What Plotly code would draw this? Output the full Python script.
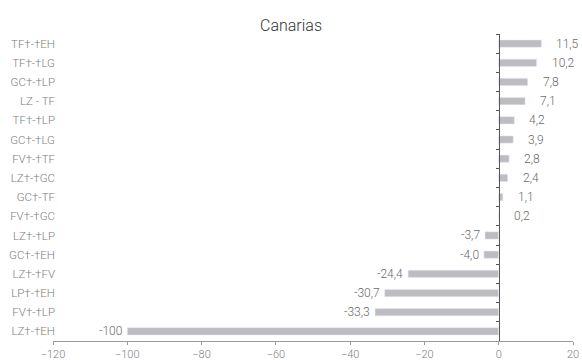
import plotly.graph_objs as go

routes = ["TF†-†EH", "TF†-†LG", "GC†-†LP", "LZ - TF", "TF†-†LP", "GC†-†LG",
          "FV†-†TF", "LZ†-†GC", "GC†-TF", "FV†-†GC", "LZ†-†LP", "GC†-†EH",
          "LZ†-†FV", "LP†-†EH", "FV†-†LP", "LZ†-†EH"]
values = [11.5, 10.2, 7.8, 7.1, 4.2, 3.9, 2.8, 2.4, 1.1, 0.2,
          -3.7, -4.0, -24.4, -30.7, -33.3, -100]
value_labels = ["11,5", "10,2", "7,8", "7,1", "4,2", "3,9", "2,8", "2,4", "1,1", "0,2",
                "-3,7", "-4,0", "-24,4", "-30,7", "-33,3", "-100"]

bar_color = "#bdbdc1"
text_color = "#6a6a6a"
tick_color = "#808080"
axis_color = "#9a9a9a"

fig = go.Figure()
fig.add_trace(go.Bar(
    x=values, y=routes, orientation="h", marker_color=bar_color,
    width=0.38, hoverinfo="skip", showlegend=False
))
# invisible copy so the zero-line axis gets the same categories
fig.add_trace(go.Bar(
    x=[0] * len(routes), y=routes, orientation="h", yaxis="y2",
    marker_color="rgba(0,0,0,0)", hoverinfo="skip", showlegend=False
))

for r, v, t in zip(routes, values, value_labels):
    fig.add_annotation(
        x=v, y=r, text=t, showarrow=False,
        xanchor="left" if v >= 0 else "right",
        xshift=13 if v >= 0 else -3,
        font=dict(size=12, color=text_color, weight=300)
    )

zero_pos = (0 - (-120)) / (20 - (-120))

fig.update_layout(
    width=582, height=360,
    margin=dict(l=53, r=9, t=34, b=19, autoexpand=False),
    paper_bgcolor="white", plot_bgcolor="white",
    font=dict(family="Roboto", color=text_color, weight=300),
    title=dict(text="Canarias", x=0.5, xanchor="center", y=0.945,
               font=dict(size=16, color="#333333", weight=300)),
    bargap=0.6,
    xaxis=dict(
        range=[-120, 20], tickvals=[-120, -100, -80, -60, -40, -20, 0, 20],
        showgrid=False, zeroline=False, showline=True, linecolor=axis_color,
        linewidth=1, ticks="outside", ticklen=3, tickcolor=axis_color,
        tickfont=dict(size=11, color=tick_color, weight=300), automargin=False
    ),
    yaxis=dict(
        categoryorder="array", categoryarray=routes, autorange="reversed",
        showgrid=False, zeroline=False, showline=False, ticks="",
        tickfont=dict(size=11.5, color=tick_color, weight=300), ticklabelstandoff=-3,
        automargin=False
    ),
    yaxis2=dict(
        overlaying="y", anchor="free", position=zero_pos,
        categoryorder="array", categoryarray=routes, autorange="reversed",
        showgrid=False, zeroline=False, showline=True, linecolor="#555555",
        linewidth=1, ticks="outside", tickson="boundaries", ticklen=3,
        tickcolor="#555555", showticklabels=False, automargin=False
    )
)

fig.write_html("out.html", config={"displayModeBar": False},
               post_script="document.body.style.margin='0';")
